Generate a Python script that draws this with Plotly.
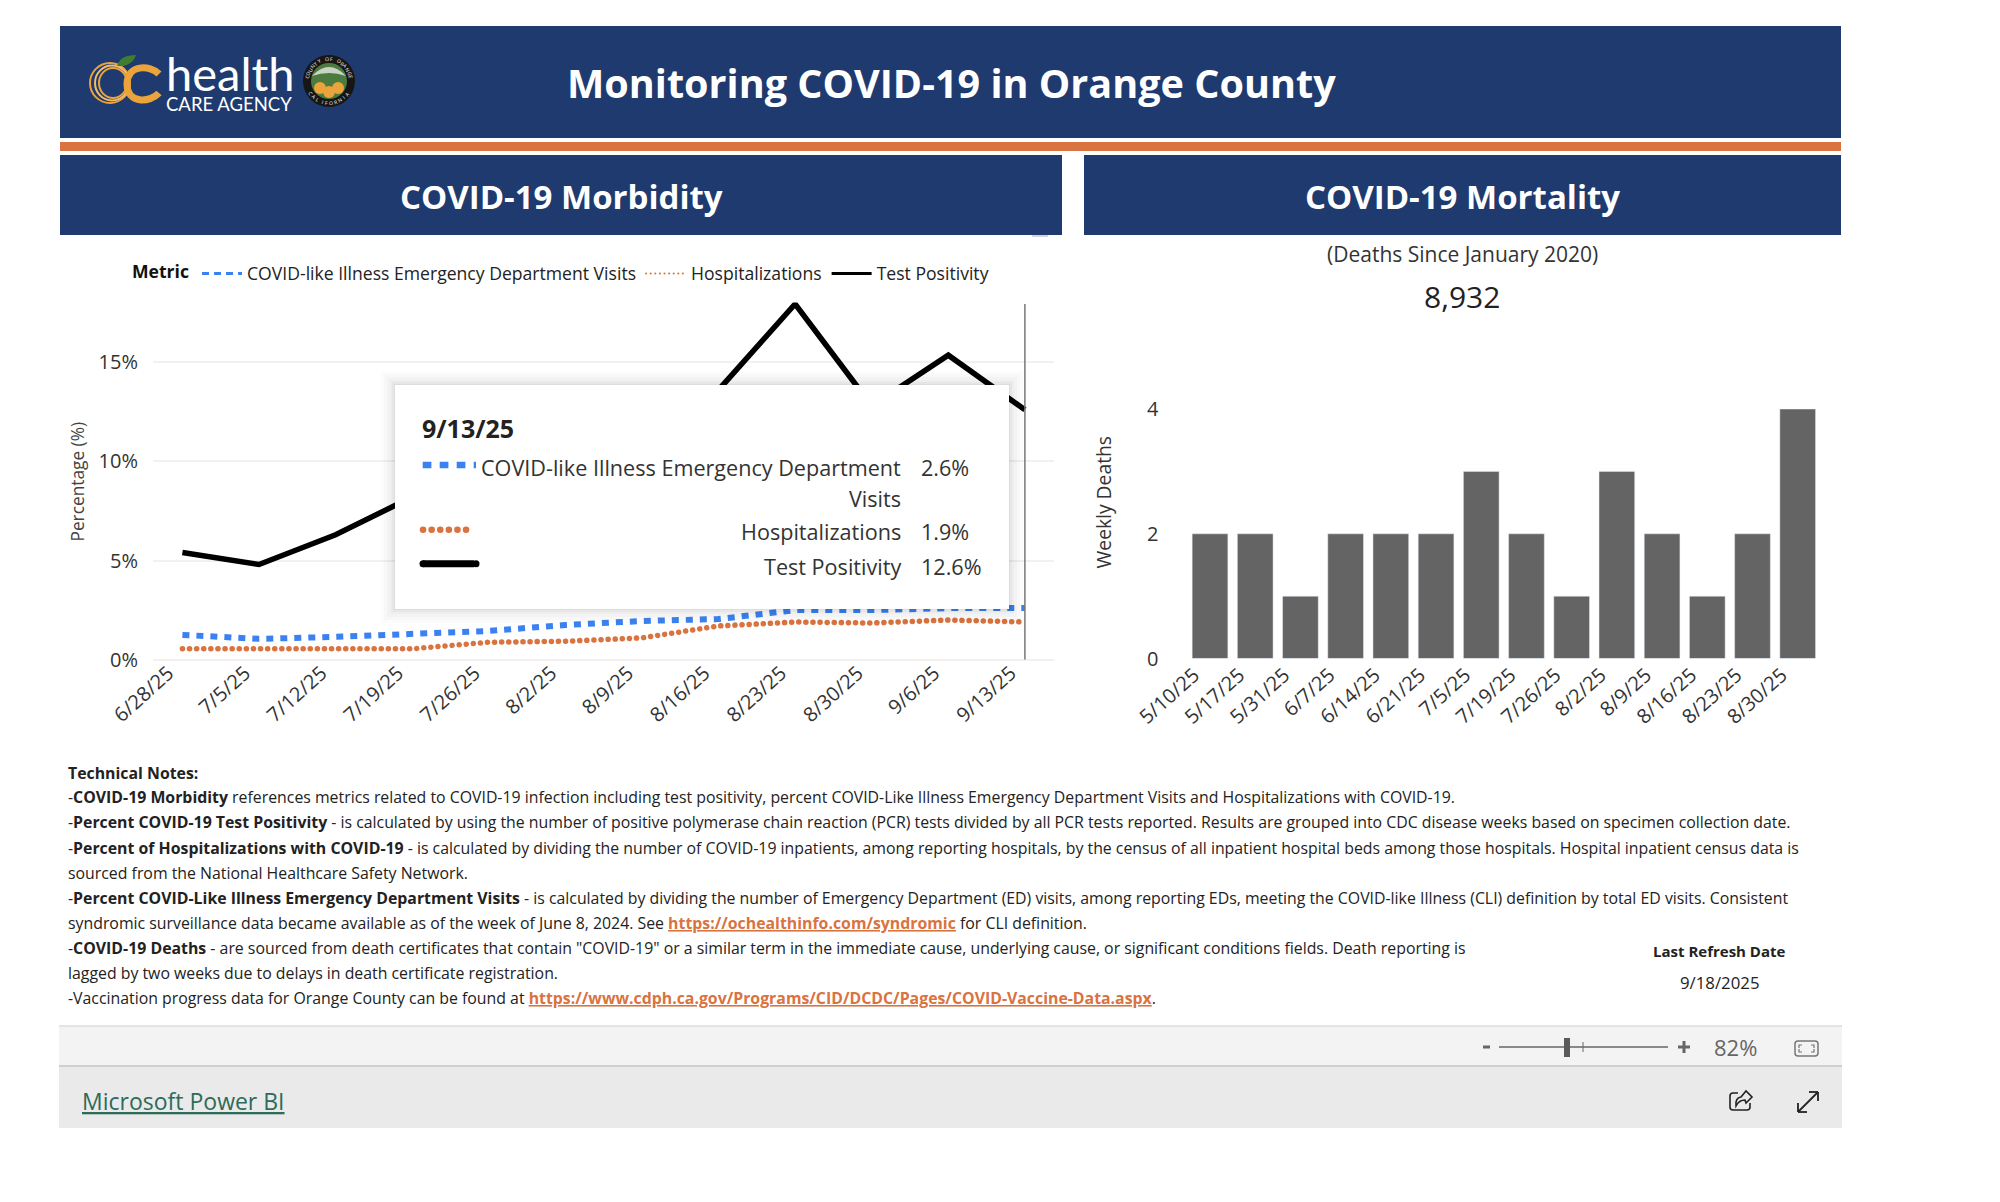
import math
import plotly.graph_objects as go

# ---- data ----
weeks = ["6/28/25","7/5/25","7/12/25","7/19/25","7/26/25","8/2/25","8/9/25","8/16/25","8/23/25","8/30/25","9/6/25","9/13/25"]
cli_visits = [1.25,1.05,1.15,1.3,1.45,1.75,1.95,2.05,2.5,2.5,2.6,2.6]
hospitalizations = [0.55,0.55,0.55,0.55,0.88,0.93,1.1,1.7,1.9,1.85,2.0,1.9]
test_positivity = [5.4,4.8,6.3,8.2,10.0,11.0,12.0,13.6,17.93,12.8,15.35,12.6]
death_weeks = ["5/10/25","5/17/25","5/31/25","6/7/25","6/14/25","6/21/25","7/5/25","7/19/25","7/26/25","8/2/25","8/9/25","8/16/25","8/23/25","8/30/25"]
weekly_deaths = [2,2,1,2,2,2,3,2,1,3,2,1,2,4]
total_deaths = "8,932"

W, H = 2000, 1202
NAVY, ORANGE = "#1e3a6e", "#d9733f"
LOGO_ORANGE = "#eba33c"
BLUE, BLACK = "#3b82f0", "#000000"
FONT = "Open Sans"
def X(x): return x / W
def Y(y): return 1 - y / H

shapes, notes = [], []
def rect(x0, y0, x1, y1, fill, line=None, lw=0, opacity=1.0, kind="rect"):
    shapes.append(dict(type=kind, xref="paper", yref="paper", x0=X(x0), x1=X(x1), y0=Y(y0), y1=Y(y1),
                       fillcolor=fill, opacity=opacity, layer="above",
                       line=dict(color=line or "rgba(0,0,0,0)", width=lw)))
def seg(x0, y0, x1, y1, color, lw, dash="solid"):
    shapes.append(dict(type="line", xref="paper", yref="paper", x0=X(x0), x1=X(x1), y0=Y(y0), y1=Y(y1),
                       layer="above", line=dict(color=color, width=lw, dash=dash)))
def pth(tokens, color=None, lw=0, fill="rgba(0,0,0,0)"):
    out, i = [], 0
    while i < len(tokens):
        if isinstance(tokens[i], str):
            out.append(tokens[i]); i += 1
        else:
            out.append(f"{X(tokens[i]):.5f},{Y(tokens[i+1]):.5f}"); i += 2
    shapes.append(dict(type="path", xref="paper", yref="paper", path=" ".join(out), fillcolor=fill, layer="above",
                       line=dict(color=color or "rgba(0,0,0,0)", width=lw)))
def txt(x, y, s, size, color="#222222", anchor="left", angle=0, family=FONT):
    notes.append(dict(xref="paper", yref="paper", x=X(x), y=Y(y), text=s, showarrow=False, xanchor=anchor,
                      yanchor="middle", textangle=angle, align=anchor if anchor != "center" else "center",
                      font=dict(family=family, size=size, color=color), borderpad=0, borderwidth=0))

# ---- banner ----
rect(60, 26, 1841, 138, NAVY)
rect(60, 142, 1841, 151, ORANGE)
rect(60, 155, 1062, 235, NAVY)
rect(1084, 155, 1841, 235, NAVY)
seg(1032, 236, 1048, 236, "#aaaaaa", 1)
txt(951, 83.5, "<b>Monitoring COVID-19 in Orange County</b>", 39.6, "white", "center")
txt(561, 197, "<b>COVID-19 Morbidity</b>", 33, "white", "center")
txt(1462, 197, "<b>COVID-19 Mortality</b>", 33, "white", "center")

# logo
for rx, ry, dx, c in [(20, 20, 2, LOGO_ORANGE), (17, 17.5, 4, "#f2bd6a"), (14, 15, 5, LOGO_ORANGE)]:
    shapes.append(dict(type="circle", xref="paper", yref="paper", x0=X(108+dx-rx), x1=X(108+dx+rx), y0=Y(83-ry), y1=Y(83+ry),
                       layer="above", line=dict(color=c, width=2)))
pth(["M", 159, 74, "C", 150, 65, 127, 64, 127, 84, "C", 127, 104, 150, 103, 159, 93], LOGO_ORANGE, 7)
pth(["M", 117, 66, "Q", 120, 55, 136, 55, "Q", 132, 67, 117, 66, "Z"], None, 0, "#3e7d32")
txt(166, 80, '<span style="font-size:47px">health</span><br><span style="font-size:18.5px">CARE AGENCY</span>',
    15.5, "white", family="Lato")
rect(303, 55, 355, 107, "#161616", kind="circle")
rect(311, 63, 347, 99, "#4c7a3f", kind="circle")
pth(["M", 312, 76, "Q", 329, 58, 346, 76, "Q", 329, 70, 312, 76, "Z"], None, 0, "#c9d3c4")
for cx, cy in [(320, 88), (338, 88), (329, 92)]:
    rect(cx-6, cy-6, cx+6, cy+6, LOGO_ORANGE, kind="circle")
for word, mid, span, bottom in [("COUNTY OF ORANGE", 0, 160, False), ("CALIFORNIA", 180, 110, True)]:
    for i, ch in enumerate(word):
        if ch == " ":
            continue
        a = mid + span * (i / (len(word) - 1) - 0.5) * (-1 if bottom else 1)
        r = math.radians(a)
        txt(329 + 22 * math.sin(r), 81 - 22 * math.cos(r), ch, 5, "white", "center",
            a - 180 if bottom else a)

# ---- mortality header texts ----
txt(1462, 254, "(Deaths Since January 2020)", 21, "#333333", "center")
txt(1462, 296, total_deaths, 30, "#222222", "center")

# ---- hover line on last week ----
shapes.append(dict(type="line", xref="x", yref="y", x0=weeks[-1], x1=weeks[-1], y0=0, y1=max(test_positivity),
                   layer="above", line=dict(color="#777777", width=1.5)))

# ---- tooltip ----
for g, op in [(14, .012), (11, .015), (8, .018), (5, .02), (3, .03), (1, .04)]:
    rect(395-g, 385-g, 1009+g, 609+g, "#000000", opacity=op)
rect(395, 385, 1009, 609, "#ffffff")
txt(422, 428, "<b>" + weeks[-1] + "</b>", 25, "#222222")
seg(422.7, 465, 476, 465, BLUE, 6.5, "8.7px,8.3px")
seg(423, 529.7, 474, 529.7, ORANGE, 6.5, "0.1px,8.5px")
seg(423, 563.7, 474, 563.7, BLACK, 7)
rect(419.5, 560.2, 426.5, 567.2, BLACK, kind="circle")
rect(472.5, 560.2, 479.5, 567.2, BLACK, kind="circle")
TIP = 21.6
txt(900.5, 467, "COVID-like Illness Emergency Department", TIP, "#333333", "right")
txt(900.5, 498, "Visits", TIP, "#333333", "right")
txt(900.5, 531.5, "Hospitalizations", TIP, "#333333", "right")
txt(900.5, 566, "Test Positivity", TIP, "#333333", "right")
for yy, series in [(467, cli_visits), (531.5, hospitalizations), (566, test_positivity)]:
    txt(921, yy, f"{series[-1]:.1f}%", TIP, "#333333")

# ---- technical notes ----
LINK = f'<span style="color:{ORANGE};font-weight:bold;text-decoration:underline">%s</span>'
lines = [
 (773, "<b>Technical Notes:</b>"),
 (797, "-<b>COVID-19 Morbidity</b> references metrics related to COVID-19 infection including test positivity, percent COVID-Like Illness Emergency Department Visits and Hospitalizations with COVID-19."),
 (822.5, "-<b>Percent COVID-19 Test Positivity</b> - is calculated by using the number of positive polymerase chain reaction (PCR) tests divided by all PCR tests reported. Results are grouped into CDC disease weeks based on specimen collection date."),
 (847.5, "-<b>Percent of Hospitalizations with COVID-19</b> - is calculated by dividing the number of COVID-19 inpatients, among reporting hospitals, by the census of all inpatient hospital beds among those hospitals. Hospital inpatient census data is"),
 (873, "sourced from the National Healthcare Safety Network."),
 (898, "-<b>Percent COVID-Like Illness Emergency Department Visits</b> - is calculated by dividing the number of Emergency Department (ED) visits, among reporting EDs, meeting the COVID-like Illness (CLI) definition by total ED visits. Consistent"),
 (923, "syndromic surveillance data became available as of the week of June 8, 2024. See " + LINK % "https://ochealthinfo.com/syndromic" + " for CLI definition."),
 (948, '-<b>COVID-19 Deaths</b> - are sourced from death certificates that contain "COVID-19" or a similar term in the immediate cause, underlying cause, or significant conditions fields. Death reporting is'),
 (973, "lagged by two weeks due to delays in death certificate registration."),
 (998, "-Vaccination progress data for Orange County can be found at " + LINK % "https://www.cdph.ca.gov/Programs/CID/DCDC/Pages/COVID-Vaccine-Data.aspx" + "."),
]
for yy, s in lines:
    txt(68, yy, s, 15.85, "#222222")
txt(1719, 951, "<b>Last Refresh Date</b>", 15, "#222222", "center")
txt(1719, 982, "9/18/2025", 16.8, "#222222", "center")

# ---- report footer ----
rect(59, 1026, 1842, 1066, "#f3f3f3")
seg(59, 1026, 1842, 1026, "#dcdcdc", 1.5)
rect(59, 1066, 1842, 1128, "#eaeaea")
seg(59, 1066, 1842, 1066, "#cfcfcf", 2)
txt(82, 1100.5, '<span style="text-decoration:underline">Microsoft Power BI</span>', 23, "#2e6b5b")
seg(1483, 1047, 1490, 1047, "#666666", 3)
seg(1499, 1047, 1668, 1047, "#666666", 1.5)
seg(1583, 1042, 1583, 1052, "#666666", 1)
rect(1564, 1038, 1570, 1057, "#5a5a5a")
seg(1678, 1047, 1690, 1047, "#666666", 3)
seg(1684, 1041, 1684, 1053, "#666666", 3)
txt(1735, 1047, "82%", 22, "#666666", "center")
# fit-to-page icon
pth(["M", 1798, 1041, "L", 1815, 1041, "Q", 1818, 1041, 1818, 1044, "L", 1818, 1053, "Q", 1818, 1056, 1815, 1056,
     "L", 1798, 1056, "Q", 1795, 1056, 1795, 1053, "L", 1795, 1044, "Q", 1795, 1041, 1798, 1041, "Z"], "#777777", 1.5)
for ax, ay, sx, sy in [(1799, 1045, 1, 1), (1814, 1045, -1, 1), (1799, 1052, 1, -1), (1814, 1052, -1, -1)]:
    pth(["M", ax + 3 * sx, ay, "L", ax, ay, "L", ax, ay + 3 * sy], "#777777", 1.2)
# share icon
pth(["M", 1738, 1093, "L", 1733, 1093, "Q", 1730, 1093, 1730, 1096, "L", 1730, 1107, "Q", 1730, 1110, 1733, 1110,
     "L", 1747, 1110, "Q", 1750, 1110, 1750, 1107, "L", 1750, 1103], "#222222", 1.6)
pth(["M", 1741, 1097, "L", 1746, 1091, "L", 1752, 1097, "L", 1746, 1103, "L", 1745, 1100, "Q", 1739, 1100, 1736, 1106,
     "Q", 1735, 1098, 1741, 1097, "Z"], "#222222", 1.6)
# expand icon
seg(1798, 1112, 1818, 1092, "#222222", 1.8)
seg(1798, 1112, 1798, 1103, "#222222", 1.8)
seg(1798, 1112, 1807, 1112, "#222222", 1.8)
seg(1818, 1092, 1809, 1092, "#222222", 1.8)
seg(1818, 1092, 1818, 1101, "#222222", 1.8)

# ---- axis titles ----
txt(77, 481.5, "Percentage (%)", 17.3, "#444444", "center", -90)
txt(1103, 502.5, "Weekly Deaths", 19.3, "#333333", "center", -90)

# ---- traces ----
fig = go.Figure()
CLI_NAME, HOSP_NAME, POS_NAME = "COVID-like Illness Emergency Department Visits", "Hospitalizations", "Test Positivity"
fig.add_trace(go.Scatter(x=weeks, y=cli_visits, mode="lines", name=CLI_NAME, showlegend=False,
                         line=dict(color=BLUE, width=6, dash="7px,7px")))
fig.add_trace(go.Scatter(x=weeks, y=hospitalizations, mode="lines", name=HOSP_NAME, showlegend=False,
                         line=dict(color=ORANGE, width=5.5, dash="0.1px,7px")))
fig.add_trace(go.Scatter(x=weeks, y=test_positivity, mode="lines", name=POS_NAME, showlegend=False,
                         line=dict(color=BLACK, width=5.5, simplify=False)))
for nm, col, dash, lw in [(CLI_NAME, BLUE, "7px,5px", 3), (HOSP_NAME, ORANGE, "0.1px,4.5px", 2), (POS_NAME, BLACK, "solid", 3)]:
    fig.add_trace(go.Scatter(x=[None], y=[None], mode="lines", name=nm, line=dict(color=col, width=lw, dash=dash)))
fig.add_trace(go.Bar(x=death_weeks, y=weekly_deaths, marker_color="#646464", xaxis="x2", yaxis="y2",
                     showlegend=False, name="Weekly Deaths"))

tickfont = dict(family=FONT, size=20, color="#333333")
fig.update_layout(
    width=W, height=H, margin=dict(l=0, r=0, t=0, b=0, pad=0), autosize=False,
    paper_bgcolor="white", plot_bgcolor="white", bargap=0.21, font=dict(family=FONT),
    shapes=shapes, annotations=notes,
    legend=dict(orientation="h", x=X(130), y=Y(273.5), xanchor="left", yanchor="middle", itemwidth=40,
                bgcolor="rgba(0,0,0,0)", font=dict(family=FONT, size=17.6, color="#222222"),
                title=dict(text="<b>Metric</b>", side="left", font=dict(family=FONT, size=17.6, color="#111111"))),
    xaxis=dict(domain=[X(153), X(1054)], anchor="y", type="category", categoryorder="array", categoryarray=weeks,
               range=[-0.384, 11.38], tickangle=-42, tickfont=tickfont, showgrid=False, zeroline=False, automargin=False,
               showline=False, ticks="", ticklabelshift=-14, ticklabelstandoff=-3),
    yaxis=dict(domain=[Y(659.7), Y(302.6)], anchor="x", range=[0, 18], tick0=0, dtick=5, ticksuffix="%", automargin=False,
               tickfont=tickfont, gridcolor="#f4f0f0", gridwidth=1.5, zeroline=True, zerolinecolor="#f4f0f0",
               zerolinewidth=1.5, showline=False, ticks="outside", ticklen=10, tickcolor="rgba(0,0,0,0)"),
    xaxis2=dict(domain=[X(1187.4), X(1820.3)], anchor="y2", type="category", categoryorder="array", automargin=False,
                categoryarray=death_weeks, tickangle=-42, tickfont=tickfont, showgrid=False, zeroline=False,
                showline=False, ticks="", ticklabelshift=-16),
    yaxis2=dict(domain=[Y(658.6), Y(409)], anchor="x2", range=[0, 4], tickvals=[0, 2, 4], tickfont=tickfont, automargin=False,
                showgrid=False, zeroline=False, showline=False, ticks="outside", ticklen=24,
                tickcolor="rgba(0,0,0,0)"),
)
POST = """
document.body.style.margin='0';document.body.style.overflow='hidden';
document.querySelectorAll('svg path').forEach(function(p){
  if((p.style.strokeDasharray||'').indexOf('0.1')===0){p.style.strokeLinecap='round';}
});
"""
fig.write_html("out.html", config={"displayModeBar": False}, post_script=POST)
